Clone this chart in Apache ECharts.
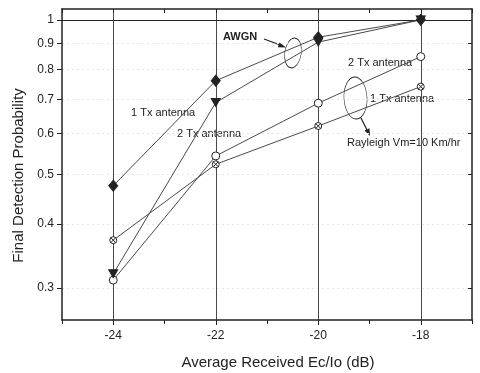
<!DOCTYPE html>
<html>
<head>
<meta charset="utf-8">
<script src="https://cdn.jsdelivr.net/npm/echarts@6/dist/echarts.min.js"></script>
<style>
  html, body { margin: 0; padding: 0; background: #fff; }
  #chart { width: 480px; height: 373px; }
</style>
</head>
<body>
<div id="chart"></div>
<script>
// Final detection probability vs Ec/Io, AWGN and Rayleigh (Vm=10 km/h), 1 and 2 Tx antennas.
var ecIo = [-24, -22, -20, -18];
var awgn1Tx = [0.475, 0.761, 0.925, 1.0];
var awgn2Tx = [0.320, 0.690, 0.905, 1.0];
var ray2Tx = [0.311, 0.543, 0.688, 0.848];
var ray1Tx = [0.372, 0.523, 0.621, 0.741];
var yTicks = [0.3, 0.4, 0.5, 0.6, 0.7, 0.8, 0.9, 1];
var xTicks = [-24, -22, -20, -18];

var FONT = '"Liberation Sans", Arial, sans-serif';
var INK = '#222';
var LINE = '#4a4a4a';

// circle with an x inside
var CROSS_CIRCLE = 'path://M10,5A5,5 0 1,1 0,5A5,5 0 1,1 10,5ZM1.6,1.6L8.4,8.4M8.4,1.6L1.6,8.4';

function pairs(ys) {
  return ecIo.map(function (x, i) { return [x, ys[i]]; });
}

function lineSeries(name, ys, symbol, size, fill, z, extra) {
  var s = {
    name: name, type: 'line', data: pairs(ys),
    symbol: symbol, symbolSize: size, showAllSymbol: true,
    lineStyle: { color: LINE, width: 1 },
    itemStyle: { color: fill, borderColor: INK, borderWidth: 1 },
    emphasis: { disabled: true }, z: z
  };
  for (var k in extra) s[k] = extra[k];
  return s;
}

var chart = echarts.init(document.getElementById('chart'));
chart.setOption({
  backgroundColor: '#fff',
  animation: false,
  textStyle: { fontFamily: FONT },
  grid: { left: 62, right: 8, top: 9, bottom: 53, outerBoundsMode: 'none', containLabel: false },
  xAxis: [
    {
      type: 'value', min: -25, max: -17, position: 'bottom',
      name: 'Average Received Ec/Io (dB)', nameLocation: 'middle', nameGap: 35,
      nameTextStyle: { fontSize: 15, color: INK, fontFamily: FONT, padding: [0, 0, 0, 22] },
      axisLine: { lineStyle: { color: INK, width: 1.5 } },
      axisTick: { customValues: xTicks, length: 5, lineStyle: { color: INK } },
      axisLabel: { customValues: xTicks, color: INK, fontSize: 12, margin: 10 },
      splitLine: { show: true, lineStyle: { color: LINE, width: 1 } }
    },
    {
      type: 'value', min: -25, max: -17, interval: 1, position: 'bottom',
      axisLine: { show: false },
      axisTick: { length: 4, lineStyle: { color: INK } },
      axisLabel: { show: false }, splitLine: { show: false }
    },
    {
      type: 'value', min: -25, max: -17, interval: 1, position: 'top',
      axisLine: { lineStyle: { color: INK, width: 1.5 } },
      axisTick: { inside: true, length: 4, lineStyle: { color: INK } },
      axisLabel: { show: false }, splitLine: { show: false }
    }
  ],
  yAxis: [
    {
      type: 'log', min: 0.26, max: 1.05, position: 'left',
      name: 'Final Detection Probability', nameLocation: 'middle', nameGap: 35,
      nameTextStyle: { fontSize: 15, color: INK, fontFamily: FONT, padding: [0, 22, 0, 0] },
      axisLine: { show: true, lineStyle: { color: INK, width: 1.5 } },
      axisTick: { customValues: yTicks, length: 5, lineStyle: { color: INK } },
      axisLabel: { customValues: yTicks, color: INK, fontSize: 12, margin: 8,
        formatter: function (v) { return String(Math.round(v * 10) / 10); } },
      splitLine: { show: true, lineStyle: { color: '#e6e6e6', type: [2, 3], width: 1 } }
    },
    {
      type: 'log', min: 0.26, max: 1.05, position: 'right',
      axisLine: { show: true, lineStyle: { color: INK, width: 1.5 } },
      axisTick: { customValues: yTicks, inside: true, length: 4, lineStyle: { color: INK } },
      axisLabel: { show: false }, splitLine: { show: false }
    }
  ],
  series: [
    lineSeries('Rayleigh 2 Tx antenna', ray2Tx, 'circle', 8, '#fff', 3),
    lineSeries('Rayleigh 1 Tx antenna', ray1Tx, CROSS_CIRCLE, 7, '#fff', 3),
    lineSeries('AWGN 2 Tx antenna', awgn2Tx, 'triangle', [9, 8], INK, 4, { symbolRotate: 180 }),
    lineSeries('AWGN 1 Tx antenna', awgn1Tx, 'diamond', [9, 11], INK, 5, {
      markLine: {
        silent: true, symbol: 'none', label: { show: false },
        lineStyle: { color: INK, width: 1, type: 'solid' },
        data: [{ yAxis: 1 }]
      }
    })
  ],
  graphic: [
    { type: 'text', left: 131, top: 107, style: { text: '1 Tx antenna', font: '11px ' + FONT, fill: INK } },
    { type: 'text', left: 177, top: 128, style: { text: '2 Tx antenna', font: '11px ' + FONT, fill: INK } },
    { type: 'text', left: 223, top: 31, style: { text: 'AWGN', font: 'bold 11px ' + FONT, fill: INK } },
    { type: 'text', left: 348, top: 57, style: { text: '2 Tx antenna', font: '11px ' + FONT, fill: INK } },
    { type: 'text', left: 370, top: 93, style: { text: '1 Tx antenna', font: '11px ' + FONT, fill: INK } },
    { type: 'text', left: 347, top: 137, style: { text: 'Rayleigh Vm=10 Km/hr', font: '11px ' + FONT, fill: INK } },
    // AWGN ellipse + arrow
    { type: 'circle', x: 293, y: 53, scaleX: 0.55, rotation: -0.15,
      shape: { cx: 0, cy: 0, r: 15 }, style: { fill: 'none', stroke: INK, lineWidth: 1 } },
    { type: 'line', shape: { x1: 264, y1: 39, x2: 283, y2: 46 }, style: { stroke: INK, lineWidth: 1.3 } },
    { type: 'polygon', shape: { points: [[286, 47.5], [279.5, 42.6], [277.8, 47.3]] }, style: { fill: INK } },
    // Rayleigh ellipse + arrow
    { type: 'circle', x: 355.5, y: 98, scaleX: 0.55, rotation: 0.05,
      shape: { cx: 0, cy: 0, r: 21 }, style: { fill: 'none', stroke: INK, lineWidth: 1 } },
    { type: 'line', shape: { x1: 361, y1: 118, x2: 368, y2: 132 }, style: { stroke: INK, lineWidth: 1.3 } },
    { type: 'polygon', shape: { points: [[370, 136], [364.5, 130.5], [369.5, 128.3]] }, style: { fill: INK } }
  ]
});
</script>
</body>
</html>
